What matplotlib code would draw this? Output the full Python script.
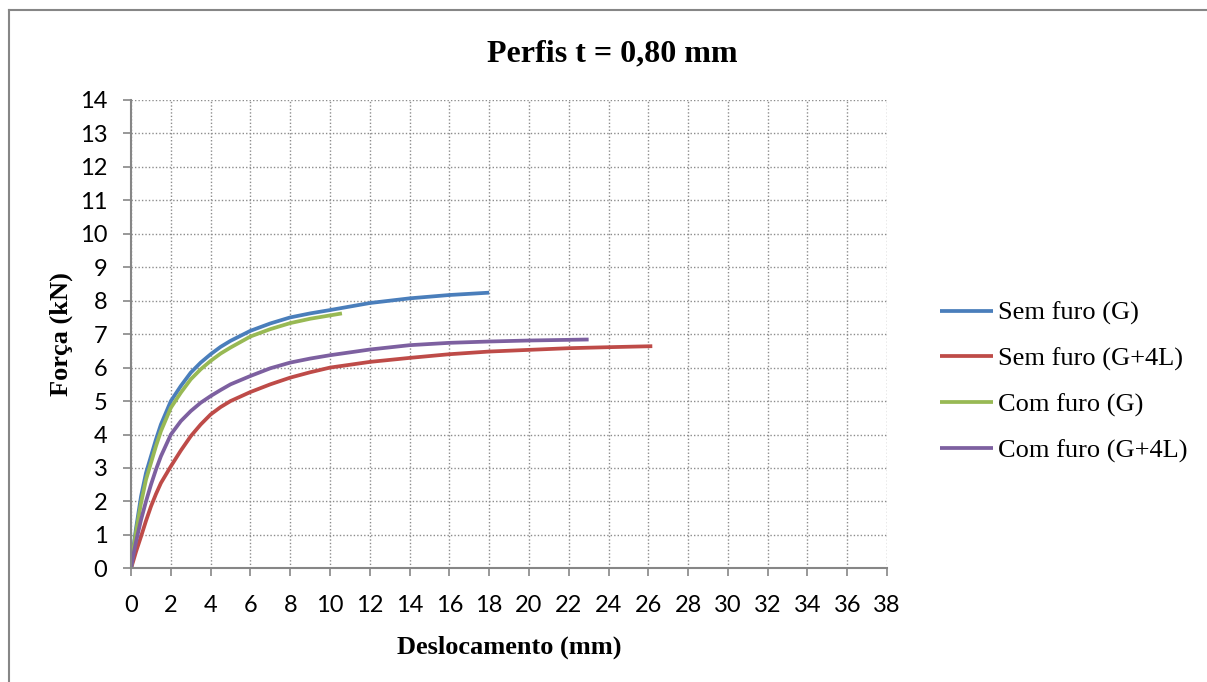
import matplotlib.pyplot as plt
import numpy as np

# values
x_sem_g = [0, 0.1, 0.25, 0.5, 0.75, 1, 1.25, 1.5, 2, 2.5, 3, 3.5, 4, 4.5, 5, 6, 7, 8, 9, 10, 12, 14, 16, 18]
y_sem_g = [0, 0.55, 1.2, 2.15, 2.85, 3.35, 3.85, 4.3, 5.0, 5.45, 5.85, 6.15, 6.4, 6.62, 6.8, 7.1, 7.32, 7.5, 7.62, 7.72, 7.93, 8.07, 8.17, 8.24]

x_com_g = [0, 0.1, 0.25, 0.5, 0.75, 1, 1.25, 1.5, 2, 2.5, 3, 3.5, 4, 4.5, 5, 6, 7, 8, 9, 10, 10.6]
y_com_g = [0, 0.5, 1.1, 1.95, 2.65, 3.15, 3.65, 4.1, 4.8, 5.25, 5.65, 5.95, 6.2, 6.42, 6.6, 6.93, 7.15, 7.33, 7.46, 7.56, 7.62]

x_com_4l = [0, 0.1, 0.25, 0.5, 0.75, 1, 1.25, 1.5, 2, 2.5, 3, 3.5, 4, 4.5, 5, 6, 7, 8, 9, 10, 12, 14, 16, 18, 20, 22, 23]
y_com_4l = [0, 0.35, 0.8, 1.45, 2.0, 2.5, 2.95, 3.35, 4.0, 4.4, 4.7, 4.95, 5.15, 5.33, 5.5, 5.75, 5.98, 6.15, 6.27, 6.37, 6.54, 6.67, 6.74, 6.78, 6.81, 6.83, 6.84]

x_sem_4l = [0, 0.1, 0.25, 0.5, 0.75, 1, 1.25, 1.5, 2, 2.5, 3, 3.5, 4, 4.5, 5, 6, 7, 8, 9, 10, 12, 14, 16, 18, 20, 22, 24, 26.2]
y_sem_4l = [0, 0.2, 0.5, 0.95, 1.42, 1.85, 2.22, 2.55, 3.05, 3.52, 3.95, 4.3, 4.6, 4.82, 5.0, 5.27, 5.5, 5.7, 5.86, 6.0, 6.17, 6.29, 6.4, 6.48, 6.53, 6.58, 6.61, 6.64]

series = [
    ("Sem furo (G)", x_sem_g, y_sem_g, "#4A7EBB"),
    ("Sem furo (G+4L)", x_sem_4l, y_sem_4l, "#BE4B48"),
    ("Com furo (G)", x_com_g, y_com_g, "#98B954"),
    ("Com furo (G+4L)", x_com_4l, y_com_4l, "#7D60A0"),
]

x_ticks = np.arange(0, 39, 2)
y_ticks = np.arange(0, 15, 1)

fig = plt.figure(figsize=(12.07, 6.82), dpi=100)
ax = fig.add_axes([0.1086, 0.1667, 0.6263, 0.6867])

for label, xs, ys, color in series:
    ax.plot(xs, ys, color=color, lw=2.7, label=label, solid_capstyle="butt",
            solid_joinstyle="round")

ax.set_xlim(0, 38)
ax.set_ylim(0, 14)
ax.set_xticks(x_ticks)
ax.set_yticks(y_ticks)
ax.grid(True, color="#8c8c8c", linestyle=(0, (1, 1.5)), linewidth=1.0)
ax.set_axisbelow(True)

for side in ["top", "right"]:
    ax.spines[side].set_visible(False)
for side in ["left", "bottom"]:
    ax.spines[side].set_color("#868686")
    ax.spines[side].set_linewidth(1.5)

ax.tick_params(axis="both", direction="out", length=6, width=1.2, color="#868686",
               labelsize=17, labelcolor="black")
ax.tick_params(axis="x", pad=13)
ax.tick_params(axis="y", pad=11)
for lbl in ax.get_xticklabels() + ax.get_yticklabels():
    lbl.set_fontfamily("Lato")

ax.set_xlabel("Deslocamento (mm)", fontsize=19, fontweight="bold",
              family="Liberation Serif", labelpad=14)
ax.set_ylabel("Força (kN)", fontsize=19, fontweight="bold",
              family="Liberation Serif", labelpad=5)

fig.text(0.507, 0.921, "Perfis t = 0,80 mm", ha="center", va="center",
         fontsize=23, fontweight="bold", family="Liberation Serif")

ax.legend(loc="center left", bbox_to_anchor=(0.759, 0.44), bbox_transform=fig.transFigure,
          frameon=False, prop={"family": "Liberation Serif", "size": 19},
          handlelength=2.0, handletextpad=0.2, labelspacing=0.83)

# outer chart border (top and left edges visible in the reference)
fig.add_artist(plt.Line2D([0.0075, 1.0], [0.985, 0.985], transform=fig.transFigure,
                          color="#868686", lw=1.5))
fig.add_artist(plt.Line2D([0.0075, 0.0075], [0.0, 0.985], transform=fig.transFigure,
                          color="#868686", lw=1.5))

fig.savefig("out.png", dpi=100)
